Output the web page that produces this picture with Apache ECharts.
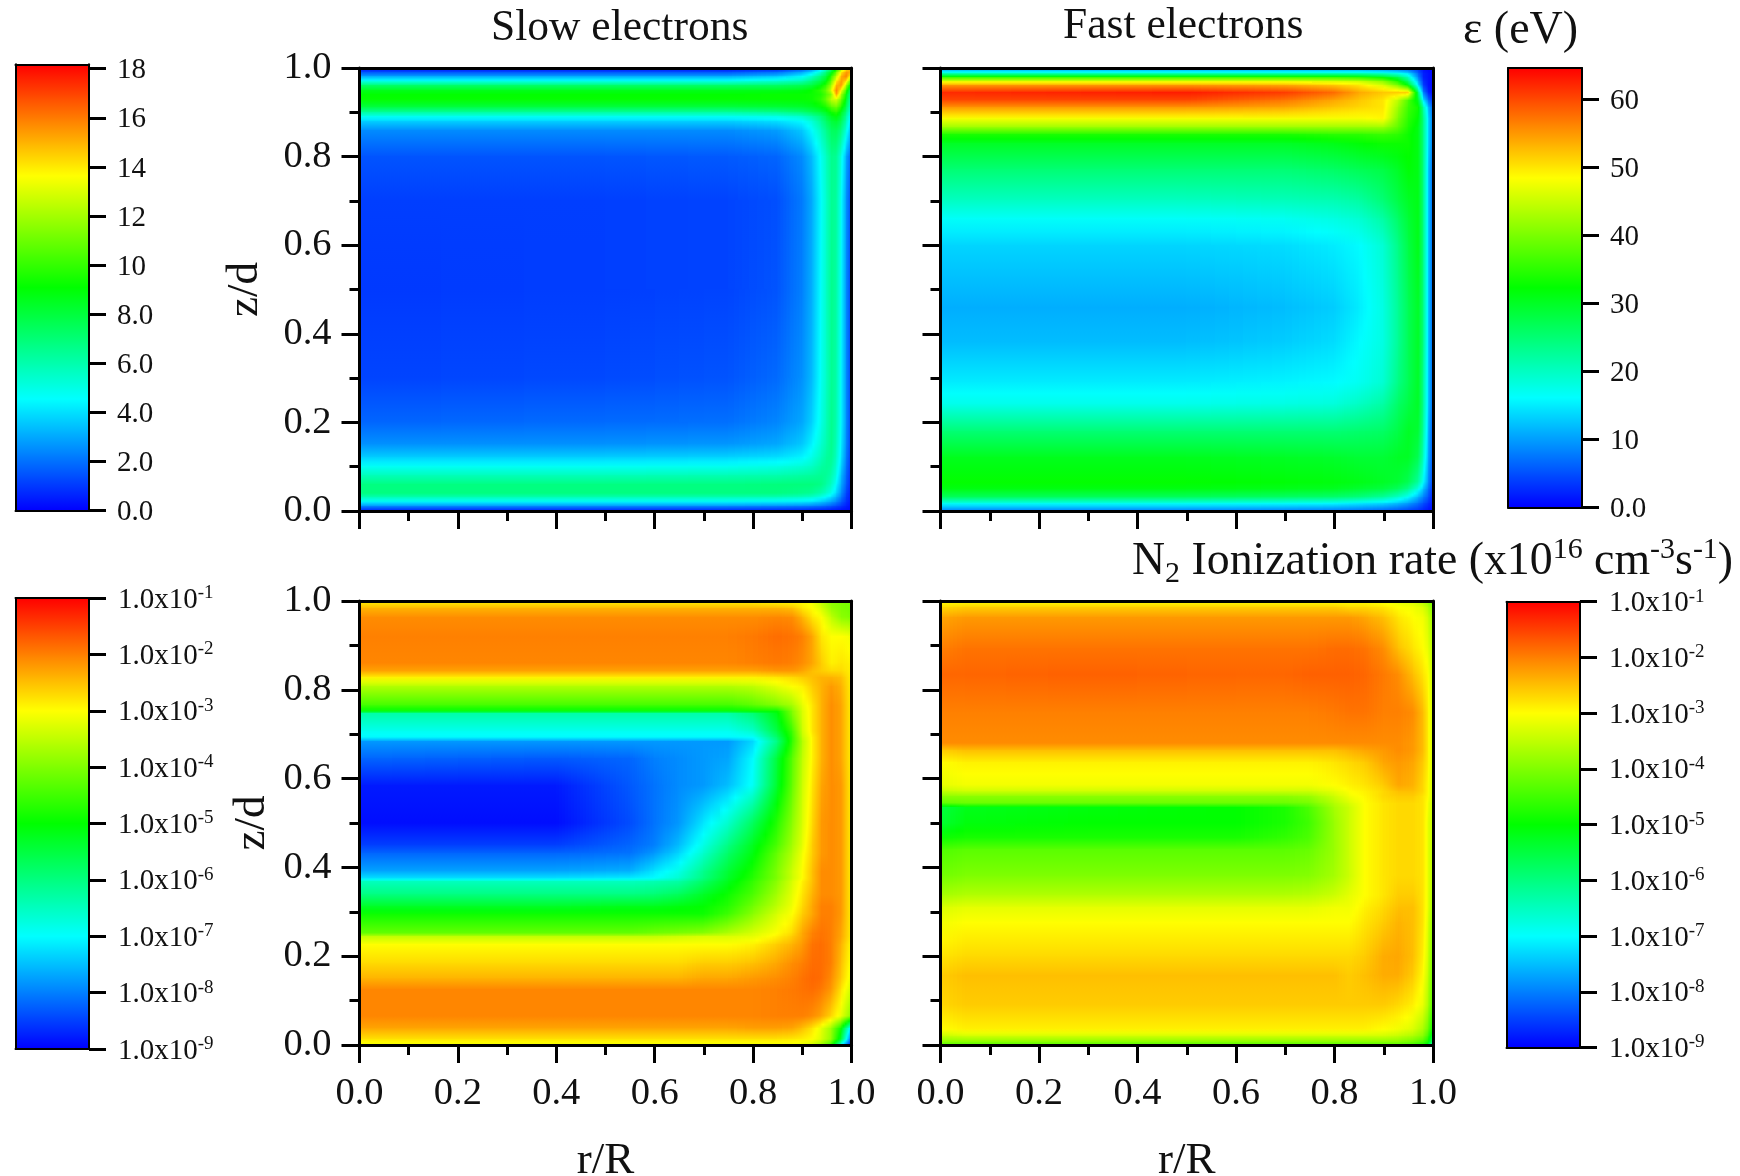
<!DOCTYPE html>
<html><head><meta charset="utf-8">
<style>html,body{margin:0;padding:0;background:#fff}#c{width:1740px;height:1176px}</style>
<script src="https://cdn.jsdelivr.net/npm/echarts@6/dist/echarts.min.js"></script>
</head><body><div id="c"></div>
<script>
// ---- values (rows run from z/d = 1 down to 0) ----
const slowEnergyR = [0,.5,.75,.85,.9,.92,.94,.95,.96,.97,.98,.99,1];
const slowEnergyZ = [1,.99,.98,.97,.96,.95,.94,.93,.91,.9,.89,.88,.86,.8,.7,.5,.3,.2,.15,.12,.1,.08,.06,.04,.03,.02,.01,0];
const slowEnergy = [
[.3,.3,.3,.5,1.5,2.5,4,5.5,7,9,12,14,15],
[1.5,1.5,1.5,2,3,4,5.5,7,8.5,11,14,15.5,15],
[3,3,3,3.5,4.5,5.5,7,8,10,12.5,15,16,13],
[5,5,5,5.5,6,7,8,9,11,14,15.5,14,10],
[7.2,7.2,7.2,7.3,7.6,8,9,10,12,15,15.5,12,8],
[8.6,8.6,8.6,8.6,8.8,9.2,10,11,13,16,13.5,10,6.5],
[9.1,9.1,9.1,9.2,9.2,9.3,9.6,10.5,11.5,15.5,12,9,6],
[9.2,9.2,9.2,9.2,9.2,9.3,10,11,12.5,13,11,8.5,5.5],
[7.8,7.8,7.8,8,8.2,8.5,9,9.5,10.5,11,9.5,7.5,5],
[6.2,6.2,6.2,6.5,7,7.5,8,8.5,9.3,9.8,8.5,6.8,4.5],
[4.8,4.8,4.8,5,5.5,6.2,7,7.8,8.6,9,8,6.2,4],
[3.7,3.7,3.7,4,4.5,5.3,6.5,7.3,8,8.3,7.5,5.8,3.6],
[2.5,2.5,2.5,2.8,3.6,4.6,5.8,6.6,7.4,7.5,6.7,5,3],
[1.5,1.5,1.6,1.8,2.5,3.4,4.8,5.7,6.6,6.5,5,3,1.5],
[1.1,1.1,1.2,1.4,2.2,3.1,4.6,5.5,6.5,6.3,4.6,2.6,1.1],
[1,1.1,1.2,1.5,2.3,3.2,4.7,5.6,6.6,6.2,4.5,2.5,1],
[1.2,1.3,1.5,1.9,2.6,3.4,4.8,5.6,6.5,6.1,4.4,2.5,1],
[1.8,1.9,2,2.4,3,3.8,5,5.8,6.6,6,4.4,2.5,1],
[2.6,2.6,2.7,3,3.6,4.4,5.4,6,6.6,5.8,4.2,2.4,.9],
[3.7,3.7,3.8,4,4.4,5,5.8,6.3,6.5,5.6,4,2.2,.8],
[4.7,4.7,4.8,5,5.3,5.6,6.2,6.4,6.3,5.3,3.7,2,.7],
[5.8,5.8,5.9,6,6.2,6.3,6.5,6.4,6,5,3.3,1.8,.6],
[6.8,6.8,6.8,6.9,6.9,6.9,6.7,6.2,5.6,4.5,3,1.6,.5],
[6.8,6.8,6.8,6.8,6.6,6.4,5.9,5.4,4.8,3.8,2.5,1.2,.4],
[5.8,5.8,5.8,5.7,5.5,5.3,4.8,4.4,3.9,3.1,2.1,1,.4],
[4.2,4.2,4.2,4.1,4,3.8,3.4,3.1,2.7,2.2,1.5,.8,.3],
[2.4,2.4,2.4,2.3,2.2,2.1,1.9,1.7,1.5,1.2,.9,.5,.2],
[.5,.5,.5,.5,.5,.4,.4,.4,.3,.3,.2,.2,.1]];

const fastEnergyR = [0,.5,.7,.8,.85,.9,.93,.95,.97,.98,.99,1];
const fastEnergyZ = [1,.987,.978,.97,.96,.944,.926,.91,.887,.866,.85,.83,.77,.7,.66,.6,.46,.38,.29,.24,.18,.12,.065,.048,.03,.017,0];
const fastEnergy = [
[8,8,8,8,8,7,6,5,3,1,.5,.5],
[20,20,20,20,20,19,17,14,6,2,1,.5],
[36,36,36,36,35,32,27,20,8,2,1,.5],
[47,47,47,46,45,41,34,25,11,3,1,.5],
[55,55,54,52,50,46,40,32,14,4,1,.5],
[62,63,61,58,54,52,52,52,25,8,2,.5],
[60,60,57,54,52,50,44,37,30,15,7,3],
[55,55,54,52,51,50,42,36,33,22,12,6],
[48,48,48,48,48,49,40,35,32,24,14,7],
[42,42,42,42,42,42,38,34,31,24,14,7],
[34,34,34,35,35,36,35,33,31,24,14,7],
[30,30,30,31,32,33,33,33,31,24,14,7],
[25,25,25,26,27,28,30,32,31,24,13,6],
[20,20,20.5,21,22,25,28,30,31,24,13,6],
[16.5,16.5,17,18,19,22,26,29,31,24,13,6],
[13.5,13.5,14,15,16,19,24,28,31,24,13,6],
[11,11,12,13,15,18,23,27,30,24,13,6],
[12,12,13,14,16,18,23,27,30,24,13,6],
[15,15,15.5,16,17,19,24,27,30,23,13,6],
[17.5,17.5,18,18.5,20,22,26,28,30,23,13,6],
[25,25,25,25,25.5,26,28,30,29,22,12,5],
[30.5,30.5,30,29.5,29,29,30,30,27,20,11,5],
[32.5,32.5,32,31.5,31,30,29,27,22,16,9,4],
[31,31,30.5,30,29,28,26,23,17,12,7,3],
[26,26,25.5,25,24,22,19,16,11,8,5,2],
[17,17,16.5,16,15,14,12,10,7,5,3,1.5],
[8,8,8,7.5,7,6,5,4,3,2,1,.5]];

// ionization rates are stored as log10 of the rate
const slowRateR = [0,.4,.55,.6,.65,.7,.75,.8,.85,.88,.9,.92,.94,.96,.98,1];
const slowRateZ = [1,.983,.962,.92,.86,.842,.827,.808,.765,.752,.746,.705,.692,.684,.645,.585,.5,.449,.432,.39,.376,.368,.338,.312,.295,.252,.244,.226,.184,.15,.124,.064,.038,.013,0];
const slowRate = [
[-2.9,-2.9,-2.9,-2.9,-2.9,-2.9,-2.9,-2.9,-3,-3,-3,-3.1,-3.5,-3.9,-4,-4.1],
[-2.4,-2.4,-2.4,-2.4,-2.4,-2.4,-2.4,-2.4,-2.4,-2.5,-2.8,-3,-3.3,-3.8,-4,-4.1],
[-2.1,-2.1,-2.1,-2.1,-2.1,-2.1,-2.1,-2.1,-2.05,-2.1,-2.4,-2.8,-3,-3.5,-3.9,-4],
[-2,-2,-2,-2,-2,-2,-2,-1.95,-1.85,-1.9,-2,-2.3,-2.8,-3,-3,-3.1],
[-2.05,-2.05,-2.05,-2.05,-2.05,-2.05,-2.05,-2,-1.95,-2,-2.1,-2.3,-2.6,-2.9,-2.8,-2.9],
[-2.3,-2.3,-2.3,-2.3,-2.3,-2.3,-2.3,-2.3,-2.2,-2.2,-2.3,-2.5,-2.6,-2.7,-2.7,-2.9],
[-2.9,-2.9,-2.9,-2.9,-2.9,-2.9,-2.9,-2.9,-2.8,-2.7,-2.6,-2.5,-2.4,-2.4,-2.5,-2.9],
[-3.6,-3.6,-3.6,-3.6,-3.6,-3.6,-3.6,-3.5,-3.2,-3,-2.9,-2.6,-2.4,-2.2,-2.4,-2.9],
[-4.5,-4.5,-4.5,-4.5,-4.5,-4.5,-4.5,-4.3,-4,-3.7,-3.2,-2.8,-2.4,-2.1,-2.3,-2.9],
[-5.1,-5.1,-5.1,-5.1,-5.1,-5.1,-5.1,-5,-5,-4,-3.3,-2.8,-2.4,-2.1,-2.3,-2.9],
[-6.3,-6.3,-6.3,-6.3,-6.3,-6.3,-6.3,-5.9,-5.1,-4,-3.3,-2.8,-2.4,-2.1,-2.3,-2.9],
[-6.9,-6.9,-6.9,-6.9,-6.9,-6.9,-6.9,-6.6,-5.5,-4.5,-3.4,-2.8,-2.4,-2.1,-2.3,-2.9],
[-7.05,-7.05,-7.05,-7.05,-7.05,-7.05,-7.05,-7,-5.8,-4.6,-3.5,-2.9,-2.4,-2.1,-2.3,-2.9],
[-7.8,-7.8,-7.8,-7.8,-7.8,-7.8,-7.8,-7.3,-6,-4.6,-3.6,-2.9,-2.4,-2.1,-2.3,-2.9],
[-8.2,-8.3,-8.2,-8,-7.9,-7.8,-7.7,-7,-5.4,-4.3,-3.5,-2.9,-2.4,-2.1,-2.3,-2.9],
[-8.8,-8.8,-8.3,-8.1,-7.9,-7.8,-7.5,-6.9,-5.3,-4.2,-3.4,-2.8,-2.3,-2.1,-2.2,-2.9],
[-8.9,-8.9,-8.4,-8.1,-7.8,-7.2,-6.6,-5.7,-4.7,-3.9,-3.3,-2.7,-2.2,-2.1,-2.2,-2.9],
[-8.5,-8.5,-8.2,-8,-7.5,-6.8,-6,-5.2,-4.4,-3.7,-3.2,-2.6,-2.2,-2.1,-2.2,-2.9],
[-8.2,-8.2,-8.1,-7.8,-7.3,-6.6,-5.8,-5.1,-4.2,-3.6,-3.1,-2.6,-2.2,-2.1,-2.2,-2.9],
[-7.7,-7.7,-7.6,-7.2,-6.8,-6.1,-5.4,-4.8,-4,-3.4,-3,-2.5,-2.1,-2.1,-2.2,-2.9],
[-7.2,-7.2,-7.1,-7,-6.6,-6,-5.3,-4.7,-4,-3.4,-3,-2.5,-2.1,-2.1,-2.2,-2.9],
[-6.5,-6.5,-6.5,-6.4,-6.3,-5.8,-5.2,-4.6,-3.9,-3.3,-2.9,-2.5,-2.1,-2.1,-2.2,-2.9],
[-6,-6,-6,-5.9,-5.7,-5.3,-4.9,-4.4,-3.7,-3.2,-2.8,-2.4,-2.1,-2.1,-2.2,-2.9],
[-5.3,-5.3,-5.2,-5.2,-5.1,-5,-4.7,-4.1,-3.5,-3.1,-2.7,-2.3,-2,-2,-2.2,-2.9],
[-4.9,-4.9,-4.9,-4.9,-4.9,-4.9,-4.5,-3.9,-3.3,-3,-2.6,-2.3,-2,-2,-2.2,-2.9],
[-4.2,-4.2,-4.2,-4.1,-4,-3.9,-3.6,-3.3,-3,-2.7,-2.3,-2,-1.9,-2,-2.3,-2.9],
[-3.5,-3.5,-3.5,-3.5,-3.4,-3.3,-3.3,-3.2,-2.9,-2.6,-2.3,-2,-1.9,-2,-2.3,-2.9],
[-3,-3,-3,-3,-3,-3,-3,-2.9,-2.6,-2.4,-2.2,-1.9,-1.85,-2,-2.4,-3],
[-2.7,-2.7,-2.7,-2.7,-2.7,-2.6,-2.6,-2.5,-2.3,-2.1,-2,-1.85,-1.85,-2,-2.5,-3.1],
[-2.4,-2.4,-2.4,-2.4,-2.4,-2.3,-2.3,-2.2,-2.1,-2,-1.9,-1.8,-1.85,-2.1,-2.6,-3.2],
[-2.05,-2.05,-2.05,-2.05,-2.05,-2.05,-2.05,-2.05,-2,-1.95,-1.9,-1.85,-1.95,-2.2,-2.8,-3.4],
[-2.05,-2.05,-2.05,-2.05,-2.05,-2.05,-2.05,-2.05,-2,-2,-2,-2.1,-2.3,-2.7,-3.2,-4],
[-2.3,-2.3,-2.3,-2.3,-2.3,-2.3,-2.3,-2.25,-2.25,-2.3,-2.5,-2.8,-3.2,-3.8,-5,-7.5],
[-2.8,-2.8,-2.8,-2.8,-2.8,-2.8,-2.8,-2.8,-2.8,-2.85,-2.9,-3,-3.3,-3.9,-5.5,-8.5],
[-3.1,-3.1,-3.1,-3.1,-3.1,-3.1,-3.1,-3.1,-3.1,-3.1,-3.2,-3.4,-3.8,-4.6,-7,-9]];

const fastRateR = [0,.05,.3,.6,.7,.75,.8,.83,.86,.9,.93,.96,.98,.99,1];
const fastRateZ = [1,.985,.963,.894,.834,.748,.68,.663,.637,.585,.57,.56,.543,.534,.5,.465,.44,.38,.337,.31,.276,.2,.156,.088,.036,.019,.006,0];
const fastRate = [
[-3,-3,-3,-3,-3,-3,-3,-3,-3,-3.1,-3.2,-3.3,-3.6,-3.9,-4.2],
[-2.7,-2.6,-2.6,-2.6,-2.6,-2.6,-2.6,-2.7,-2.7,-2.8,-3,-3.1,-3.3,-3.6,-4],
[-2.3,-2.2,-2.2,-2.2,-2.2,-2.2,-2.2,-2.2,-2.3,-2.5,-2.8,-3,-3.1,-3.4,-3.8],
[-2,-1.9,-1.9,-1.9,-1.9,-1.9,-1.85,-1.85,-1.9,-2.1,-2.5,-2.8,-3,-3.2,-3.6],
[-1.8,-1.8,-1.75,-1.8,-1.8,-1.75,-1.75,-1.75,-1.8,-1.95,-2.1,-2.5,-2.8,-3,-3.5],
[-2,-2,-2,-2,-2,-2,-1.95,-1.9,-1.9,-2,-2,-2.1,-2.5,-2.9,-3.4],
[-2.1,-2.1,-2.1,-2.1,-2.1,-2.1,-2.1,-2.1,-2.1,-2.1,-2.1,-2.2,-2.5,-2.9,-3.4],
[-2.6,-2.5,-2.5,-2.5,-2.5,-2.5,-2.5,-2.4,-2.3,-2.2,-2.1,-2.2,-2.5,-2.9,-3.4],
[-3,-2.9,-2.9,-2.9,-2.9,-2.9,-2.8,-2.7,-2.6,-2.3,-2.2,-2.3,-2.6,-2.9,-3.4],
[-3.2,-3.1,-3.1,-3.1,-3.1,-3.1,-3,-2.9,-2.8,-2.6,-2.3,-2.4,-2.7,-3,-3.4],
[-3.5,-3.4,-3.4,-3.4,-3.4,-3.4,-3.2,-3,-2.9,-2.7,-2.5,-2.5,-2.7,-3,-3.4],
[-3.9,-3.9,-3.9,-3.9,-3.9,-3.8,-3.4,-3.1,-2.95,-2.7,-2.6,-2.6,-2.8,-3,-3.4],
[-4.3,-4.2,-4.2,-4.2,-4.2,-4.1,-3.6,-3.3,-3,-2.8,-2.7,-2.7,-2.8,-3.1,-3.5],
[-5.5,-5.2,-5.1,-5,-4.8,-4.4,-3.7,-3.4,-3,-2.8,-2.7,-2.7,-2.8,-3.1,-3.5],
[-5.4,-5.1,-5,-5,-4.8,-4.5,-3.8,-3.4,-3,-2.8,-2.7,-2.7,-2.8,-3.2,-3.5],
[-4.9,-4.8,-4.8,-4.8,-4.6,-4.4,-3.8,-3.4,-3,-2.8,-2.7,-2.7,-2.8,-3.2,-3.5],
[-4.4,-4.3,-4.3,-4.3,-4.3,-4.2,-3.8,-3.4,-3,-2.8,-2.7,-2.7,-2.8,-3.2,-3.6],
[-4.1,-4,-4,-4,-4,-3.95,-3.7,-3.4,-3,-2.8,-2.7,-2.7,-2.8,-3.2,-3.6],
[-3.7,-3.6,-3.6,-3.6,-3.6,-3.55,-3.4,-3.2,-3,-2.8,-2.6,-2.6,-2.8,-3.2,-3.7],
[-3.3,-3.2,-3.2,-3.2,-3.2,-3.2,-3.1,-3.1,-2.9,-2.7,-2.5,-2.5,-2.8,-3.2,-3.8],
[-3.1,-3,-3,-3,-3,-3,-3,-3,-2.8,-2.6,-2.4,-2.5,-2.8,-3.3,-3.9],
[-2.8,-2.7,-2.7,-2.7,-2.7,-2.7,-2.7,-2.7,-2.6,-2.35,-2.3,-2.5,-2.9,-3.4,-4.1],
[-2.6,-2.5,-2.5,-2.5,-2.5,-2.5,-2.5,-2.6,-2.5,-2.35,-2.35,-2.6,-3,-3.5,-4.2],
[-2.7,-2.6,-2.6,-2.6,-2.6,-2.6,-2.6,-2.6,-2.6,-2.6,-2.7,-2.9,-3.2,-3.7,-4.4],
[-3,-2.9,-2.9,-2.9,-2.9,-2.9,-2.9,-2.9,-2.9,-3,-3.1,-3.3,-3.7,-4.2,-5],
[-3.5,-3.4,-3.4,-3.4,-3.4,-3.4,-3.4,-3.4,-3.4,-3.4,-3.5,-3.7,-4,-4.6,-5.5],
[-4,-4,-4,-4,-4,-4,-4,-4,-4,-4,-4,-4.2,-4.5,-5,-6],
[-4.3,-4.3,-4.3,-4.3,-4.3,-4.3,-4.3,-4.3,-4.3,-4.3,-4.3,-4.5,-4.8,-5.3,-7]];

const slowTicks = [0,2,4,6,8,10,12,14,16,18];
const fastTicks = [0,10,20,30,40,50,60];
const rateTicks = [-9,-8,-7,-6,-5,-4,-3,-2,-1];
const rainbow = ['#0000ff','#00ffff','#00ff00','#ffff00','#ff0000'];

// ---- layout ----
const FONT = '"Liberation Serif","Times New Roman",serif', INK = '#111';
const panels = [
 {r:slowEnergyR,z:slowEnergyZ,v:slowEnergy,min:0,max:18.18,box:[359.5,68,492,443],xLab:false,yLab:true,xName:'',yName:'z/d',yGap:92},
 {r:fastEnergyR,z:fastEnergyZ,v:fastEnergy,min:0,max:64.6,box:[940.5,68,492.5,443],xLab:false,yLab:false,xName:'',yName:''},
 {r:slowRateR,z:slowRateZ,v:slowRate,min:-9,max:-1,box:[359.5,601,492,444],xLab:true,yLab:true,xName:'r/R',yName:'z/d',yGap:85},
 {r:fastRateR,z:fastRateZ,v:fastRate,min:-9,max:-1,box:[940.5,601,492.5,444],xLab:true,yLab:false,xName:'r/R',yName:''}
];
const bars = [
 {box:[15.5,64.3,73.5,446.4],min:0,max:18.18,ticks:slowTicks,kind:'lin',series:0},
 {box:[1508,68,74,439.5],min:0,max:64.6,ticks:fastTicks,kind:'lin',series:1},
 {box:[15.5,598,73.5,451],min:-9,max:-1,ticks:rateTicks,kind:'log',series:2},
 {box:[1506.5,601.7,73.5,445.8],min:-9,max:-1,ticks:rateTicks,kind:'log',series:3}
];

const grids=[],xAxes=[],yAxes=[],series=[],visualMaps=[];
function addGrid(b){grids.push({left:b[0],top:b[1],width:b[2],height:b[3],containLabel:false,outerBoundsMode:'none'});return grids.length-1;}
const line=(w)=>({show:true,onZero:false,lineStyle:{color:'#000',width:w}});
const frameAxis=(g,pos,w)=>({type:'value',gridIndex:g,position:pos,min:0,max:1,z:10,axisLine:line(w),axisTick:{show:false},axisLabel:{show:false},splitLine:{show:false}});

function shade(vmin,vmax){
  const range=vmax-vmin, col=v=>echarts.color.lerp(Math.max(0,Math.min(1,(v-vmin)/range)),rainbow);
  return function(params,api){
    const p0=api.coord([api.value(0),api.value(2)]), p1=api.coord([api.value(1),api.value(3)]);
    const v00=api.value(4),v10=api.value(5),v01=api.value(6),v11=api.value(7);
    const x0=Math.floor(p0[0]),x1=Math.ceil(p1[0]),yb=Math.ceil(p0[1]),yt=Math.floor(p1[1]);
    const dv=Math.max(Math.abs(v10-v00),Math.abs(v11-v01))/range;
    const n=Math.max(1,Math.min(x1-x0,Math.ceil(dv*400)));
    const children=[];
    for(let i=0;i<n;i++){
      const t=(i+.5)/n, xa=Math.round(x0+(x1-x0)*i/n), xb=Math.round(x0+(x1-x0)*(i+1)/n);
      const vb=v00+(v10-v00)*t, vt=v01+(v11-v01)*t;
      const m=1+Math.ceil(Math.abs(vt-vb)/range*10), stops=[];
      for(let k=0;k<=m;k++) stops.push({offset:k/m,color:col(vt+(vb-vt)*k/m)});
      children.push({type:'rect',silent:true,shape:{x:xa,y:yt,width:xb-xa,height:yb-yt},
        style:{fill:new echarts.graphic.LinearGradient(0,0,0,1,stops)}});
    }
    return {type:'group',children};
  };
}

panels.forEach(p=>{
  const g=addGrid(p.box), tick={show:true,length:18,lineStyle:{color:'#000',width:3}},
        minor={show:true,splitNumber:2,length:10,lineStyle:{color:'#000',width:3}};
  const lab=(show,m)=>({show,margin:m,fontFamily:FONT,fontSize:38.5,color:INK,formatter:v=>v.toFixed(1),hideOverlap:false,showMinLabel:true,showMaxLabel:true});
  const xi=xAxes.length, yi=yAxes.length;
  xAxes.push({type:'value',gridIndex:g,position:'bottom',min:0,max:1,interval:.2,z:10,axisLine:line(3),axisTick:tick,minorTick:minor,
    axisLabel:lab(p.xLab,29),splitLine:{show:false},minorSplitLine:{show:false},
    name:p.xName,nameLocation:'middle',nameGap:94,nameTextStyle:{fontFamily:FONT,fontSize:45,color:INK}});
  yAxes.push({type:'value',gridIndex:g,position:'left',min:0,max:1,interval:.2,z:10,axisLine:line(3),axisTick:tick,minorTick:minor,
    axisLabel:{...lab(p.yLab,28),padding:[2,0,0,0]},splitLine:{show:false},minorSplitLine:{show:false},
    name:p.yName,nameLocation:'middle',nameGap:p.yGap||0,nameRotate:90,nameTextStyle:{fontFamily:FONT,fontSize:45,color:INK}});
  xAxes.push(frameAxis(g,'top',3)); yAxes.push(frameAxis(g,'right',3));
  const cells=[];
  for(let j=0;j<p.z.length-1;j++) for(let i=0;i<p.r.length-1;i++)
    cells.push([p.r[i],p.r[i+1],p.z[j+1],p.z[j],p.v[j+1][i],p.v[j+1][i+1],p.v[j][i],p.v[j][i+1]]);
  series.push({type:'custom',xAxisIndex:xi,yAxisIndex:yi,coordinateSystem:'cartesian2d',data:cells,silent:true,clip:true,
    encode:{x:[0,1],y:[2,3]},progressive:0,renderItem:shade(p.min,p.max),z:2});
});

bars.forEach(b=>{
  const g=addGrid(b.box);
  visualMaps.push({type:'continuous',seriesIndex:b.series,dimension:4,min:b.min,max:b.max,left:b.box[0],top:b.box[1],
    itemWidth:b.box[2],itemHeight:b.box[3],padding:0,calculable:false,realtime:false,hoverLink:false,text:null,showLabel:false,
    inRange:{color:rainbow},outOfRange:{color:rainbow}});
  xAxes.push(frameAxis(g,'bottom',2)); xAxes.push(frameAxis(g,'top',2));
  yAxes.push({type:'value',gridIndex:g,position:'left',min:b.min,max:b.max,z:10,axisLine:line(2),axisTick:{show:false},axisLabel:{show:false},splitLine:{show:false}});
  const isLog=b.kind==='log';
  yAxes.push({type:'value',gridIndex:g,position:'right',min:b.min,max:b.max,z:10,axisLine:line(2),
    axisTick:{show:true,length:17,customValues:b.ticks,lineStyle:{color:'#000',width:3}},
    axisLabel:{show:true,margin:isLog?29:28,customValues:b.ticks,fontFamily:FONT,fontSize:29,color:INK,align:'left',hideOverlap:false,padding:[4,0,0,0],
      formatter:v=>isLog?`{a|1.0x10}{s|${v}}`:(v<10?v.toFixed(1):String(v)),
      rich:{a:{fontFamily:FONT,fontSize:29,color:INK},s:{fontFamily:FONT,fontSize:19,color:INK,padding:[0,0,14,0]}}},
    splitLine:{show:false}});
});

const T=(text,left,top,fs,rich)=>({text,left,top,padding:0,textStyle:{fontFamily:FONT,fontSize:fs,fontWeight:'normal',color:INK,rich}});
const chart=echarts.init(document.getElementById('c'),null,{renderer:'canvas'});
chart.setOption({
  animation:false,backgroundColor:'#fff',tooltip:{show:false},
  title:[
    T('Slow electrons',491,7,43.5),
    T('Fast electrons',1063,5,43.5),
    T('ε (eV)',1463,8,46),
    T('{a|N}{b|2}{a| Ionization rate (x10}{c|16}{a| cm}{c|-3}{a|s}{c|-1}{a|)}',1132,535,45.8,{
      a:{fontFamily:FONT,fontSize:45.8,color:INK},
      b:{fontFamily:FONT,fontSize:30,color:INK,padding:[24,0,0,0]},
      c:{fontFamily:FONT,fontSize:30,color:INK,padding:[0,0,24,0]}})
  ],
  grid:grids,xAxis:xAxes,yAxis:yAxes,visualMap:visualMaps,series
});
</script></body></html>
